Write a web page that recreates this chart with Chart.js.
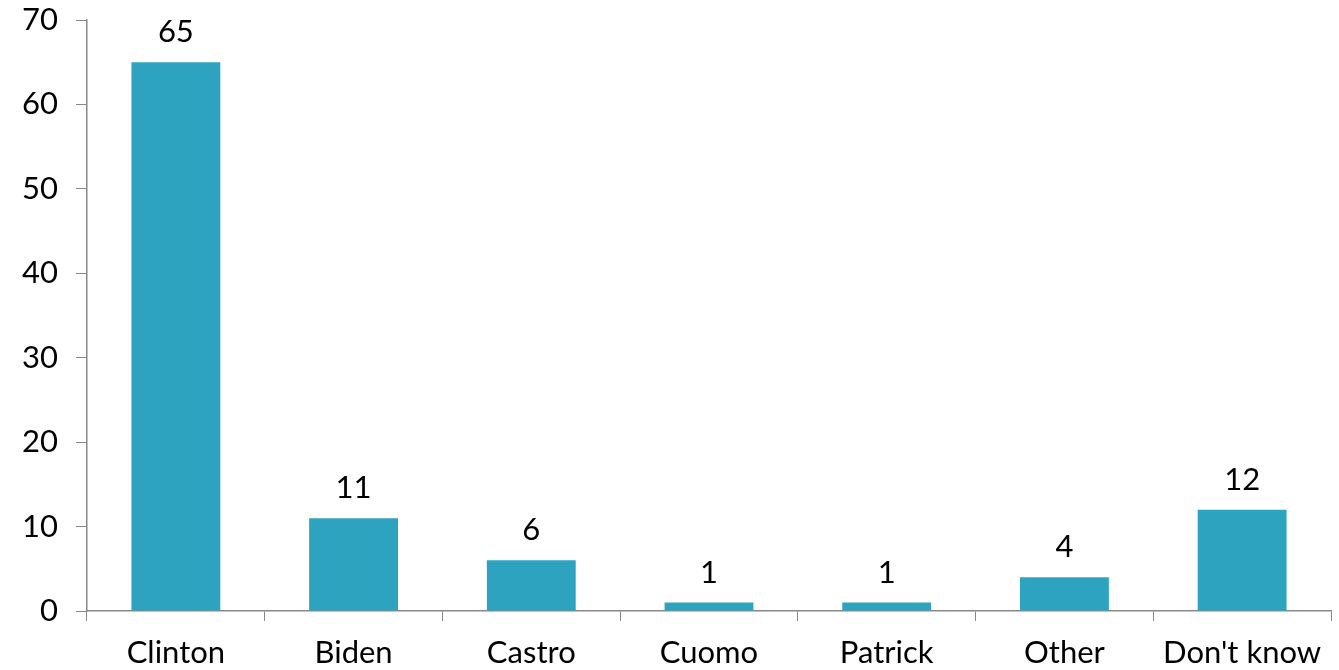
<!DOCTYPE html>
<html>
<head>
<meta charset="utf-8">
<script src="https://cdn.jsdelivr.net/npm/chart.js@4"></script>
<style>
  html, body { margin: 0; padding: 0; background: #fff; }
  #wrap { width: 1339px; height: 670px; }
</style>
</head>
<body>
<div id="wrap"><canvas id="myChart"></canvas></div>
<script>
// categories and values
const candidates = ['Clinton', 'Biden', 'Castro', 'Cuomo', 'Patrick', 'Other', "Don't know"];
const shares = [65, 11, 6, 1, 1, 4, 12];
const yTicks = [0, 10, 20, 30, 40, 50, 60, 70];

const fontFamily = 'Lato, "DejaVu Sans", sans-serif';

// draws the number above each bar
const barLabels = {
    id: 'barLabels',
    afterDatasetsDraw(chart) {
        const ctx = chart.ctx;
        const meta = chart.getDatasetMeta(0);
        ctx.save();
        ctx.fillStyle = '#000';
        ctx.font = '31px ' + fontFamily;
        ctx.textAlign = 'center';
        ctx.textBaseline = 'alphabetic';
        meta.data.forEach(function(bar, i) {
            ctx.fillText(String(shares[i]), bar.x, bar.y - 20);
        });
        ctx.restore();
    }
};

const ctx = document.getElementById('myChart').getContext('2d');
window.myChart = new Chart(ctx, {
    type: 'bar',
    data: {
        labels: candidates,
        datasets: [{
            data: shares,
            backgroundColor: '#2ea3c0',
            borderWidth: 0,
            barPercentage: 0.5,
            categoryPercentage: 1.0
        }]
    },
    options: {
        responsive: true,
        maintainAspectRatio: false,
        animation: false,
        layout: { padding: { top: 20, right: 8, left: 0, bottom: 0 } },
        plugins: {
            legend: { display: false },
            tooltip: { enabled: false }
        },
        scales: {
            x: {
                offset: true,
                grid: {
                    offset: true,
                    drawOnChartArea: false,
                    drawTicks: true,
                    tickLength: 10,
                    color: '#888'
                },
                border: { color: '#888', width: 1.5 },
                ticks: {
                    color: '#000',
                    font: { family: fontFamily, size: 31 },
                    padding: 13,
                    maxRotation: 0
                },
                afterFit(scale) {
                    scale.height = 59;
                    scale.paddingLeft = 0;
                    scale.paddingRight = 0;
                }
            },
            y: {
                min: 0,
                max: 70,
                afterBuildTicks(scale) {
                    scale.ticks = yTicks.map(function(v) { return { value: v }; });
                },
                grid: {
                    drawOnChartArea: false,
                    drawTicks: true,
                    tickLength: 11,
                    color: '#888'
                },
                border: { color: '#888', width: 1.5 },
                ticks: {
                    color: '#000',
                    font: { family: fontFamily, size: 31 },
                    padding: 18
                },
                afterFit(scale) {
                    scale.width = 87;
                    scale.paddingTop = 0;
                    scale.paddingBottom = 0;
                }
            }
        }
    },
    plugins: [barLabels]
});
</script>
</body>
</html>
